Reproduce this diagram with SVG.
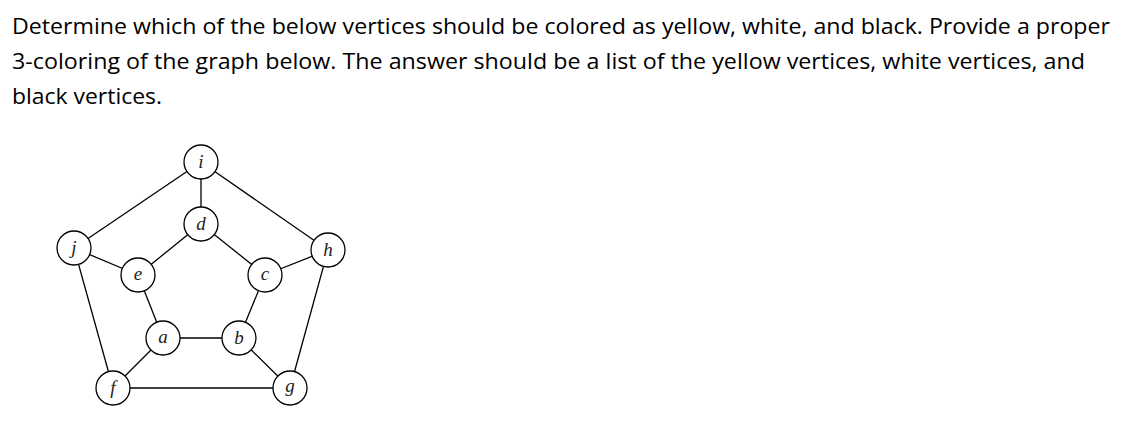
<svg xmlns="http://www.w3.org/2000/svg" width="1121" height="434" viewBox="0 0 1121 434">
<style>
.q{font-family:"Open Sans","Liberation Sans",sans-serif;font-size:22px;fill:#000}
.n circle{fill:#fff;stroke:#000;stroke-width:1.3}
.n text{font-family:"Liberation Serif","DejaVu Serif",serif;font-style:italic;font-size:19px;text-anchor:middle;fill:#222}
#edges line{stroke:#000;stroke-width:1.3}
</style>
<rect width="1121" height="434" fill="#fff"/>
<text class="q" x="12" y="34" textLength="1098" lengthAdjust="spacingAndGlyphs">Determine which of the below vertices should be colored as yellow, white, and black. Provide a proper</text>
<text class="q" x="12" y="69" textLength="1073" lengthAdjust="spacingAndGlyphs">3-coloring of the graph below. The answer should be a list of the yellow vertices, white vertices, and</text>
<text class="q" x="12" y="104" textLength="150" lengthAdjust="spacingAndGlyphs">black vertices.</text>
<g id="edges">
<line x1="201" y1="162" x2="74" y2="248"/>
<line x1="201" y1="162" x2="201" y2="224"/>
<line x1="201" y1="162" x2="328" y2="250"/>
<line x1="201" y1="224" x2="138" y2="275"/>
<line x1="201" y1="224" x2="265" y2="275"/>
<line x1="74" y1="248" x2="138" y2="275"/>
<line x1="328" y1="250" x2="265" y2="275"/>
<line x1="74" y1="248" x2="113" y2="388"/>
<line x1="328" y1="250" x2="290" y2="388"/>
<line x1="138" y1="275" x2="163" y2="338"/>
<line x1="265" y1="275" x2="239" y2="338"/>
<line x1="163" y1="338" x2="239" y2="338"/>
<line x1="163" y1="338" x2="113" y2="388"/>
<line x1="239" y1="338" x2="290" y2="388"/>
<line x1="113" y1="388" x2="290" y2="388"/>
</g>
<g id="node-i" class="n"><circle cx="201" cy="162" r="17"/><text x="201" y="168">i</text></g>
<g id="node-d" class="n"><circle cx="201" cy="224" r="17"/><text x="201" y="230">d</text></g>
<g id="node-j" class="n"><circle cx="74" cy="248" r="17"/><text x="74" y="254">j</text></g>
<g id="node-h" class="n"><circle cx="328" cy="250" r="17"/><text x="328" y="256">h</text></g>
<g id="node-e" class="n"><circle cx="138" cy="275" r="17"/><text x="138" y="280">e</text></g>
<g id="node-c" class="n"><circle cx="265" cy="275" r="17"/><text x="265" y="280">c</text></g>
<g id="node-a" class="n"><circle cx="163" cy="338" r="17"/><text x="163" y="343">a</text></g>
<g id="node-b" class="n"><circle cx="239" cy="338" r="17"/><text x="239" y="344">b</text></g>
<g id="node-f" class="n"><circle cx="113" cy="388" r="17"/><text x="113" y="394">f</text></g>
<g id="node-g" class="n"><circle cx="290" cy="388" r="17"/><text x="290" y="392">g</text></g>
</svg>
